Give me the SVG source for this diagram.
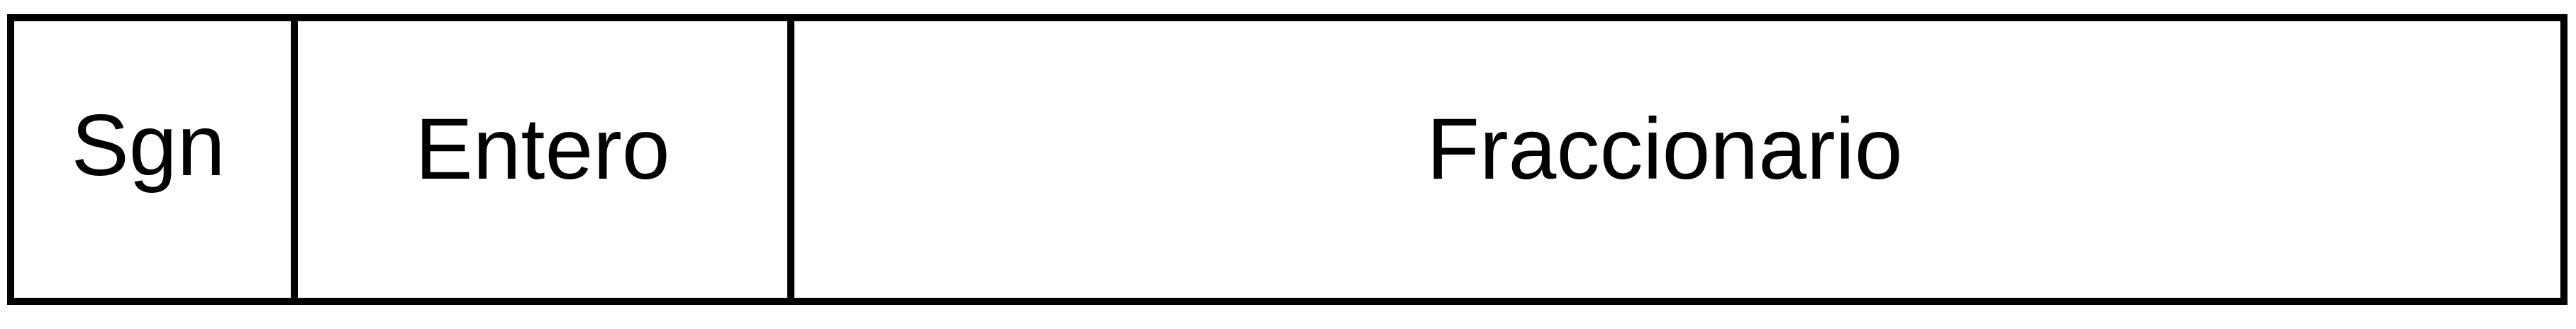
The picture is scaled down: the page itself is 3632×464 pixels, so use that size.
<svg xmlns="http://www.w3.org/2000/svg" width="3632" height="464" viewBox="0 0 3632 464">
<style>
.frame{fill:#fff;stroke:#000;stroke-width:10}
.div{stroke:#000;stroke-width:10}
.lbl{font-family:"Liberation Sans",Arial,sans-serif;font-size:122px;fill:#000;text-anchor:middle}
</style>
<rect width="3632" height="464" fill="#fff"/>
<g id="frame"><rect class="frame" x="15" y="25" width="3600" height="400"/></g>
<g id="connectors">
<line class="div" x1="415" y1="25" x2="415" y2="425"/>
<line class="div" x1="1115" y1="25" x2="1115" y2="425"/>
</g>
<g id="sgn"><text class="lbl" x="209" y="247">Sgn</text></g>
<g id="entero"><text class="lbl" x="765" y="252">Entero</text></g>
<g id="fraccionario"><text class="lbl" x="2347" y="252">Fraccionario</text></g>
</svg>
